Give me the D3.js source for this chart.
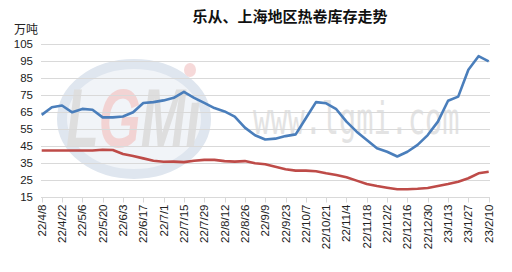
<!DOCTYPE html>
<html>
<head>
<meta charset="utf-8">
<script src="https://cdn.jsdelivr.net/npm/d3@7"></script>
<style>
  body { margin: 0; background: #fff; }
  svg { display: block; font-family: "Liberation Sans", "DejaVu Sans", sans-serif; }
</style>
</head>
<body>
<svg width="512" height="272"></svg>
<script>
// weekly data, 22/4/8 .. 23/2/10
var startDate = new Date(2022, 3, 8);
var blue = [63.5, 68, 69, 65, 67, 66.5, 62, 62, 62.5, 65, 70.5, 71, 72, 73.5, 77,
            73.5, 70.5, 67.5, 65.5, 62.5, 56, 51.5, 49, 49.5, 51, 52, 61.5, 71, 70.3,
            66.8, 59.5, 53.6, 48.7, 43.8, 41.8, 39, 41.8, 45.8, 51.6, 59.5, 71.8, 74.2,
            90, 98, 95];
var red = [42.5, 42.5, 42.5, 42.5, 42.5, 42.5, 43, 42.8, 40.5, 39.3, 37.9, 36.5, 35.9,
           36, 35.7, 36.5, 37, 37, 36.3, 36, 36.3, 35, 34.4, 33, 31.5, 30.7, 30.7,
           30.3, 29.1, 28.1, 26.8, 24.8, 22.8, 21.6, 20.6, 19.7, 19.7, 20, 20.5,
           21.6, 22.8, 24.2, 26.2, 29.1, 30];
var yTicks = [15, 25, 35, 45, 55, 65, 75, 85, 95, 105];

var dates = blue.map(function(d, i) { return d3.timeDay.offset(startDate, i * 7); });
var fmt = function(d) { return (d.getFullYear() % 100) + "/" + (d.getMonth() + 1) + "/" + d.getDate(); };

var svg = d3.select("svg");
var x = d3.scaleLinear().domain([0, blue.length - 1]).range([41.7, 488.7]);
var y = d3.scaleLinear().domain([15, 105]).range([197.3, 44.3]);

// watermark (logo + url)
var wm = svg.append("g").attr("id", "watermark");
wm.append("ellipse").attr("cx", 134).attr("cy", 119).attr("rx", 72).attr("ry", 55)
  .attr("fill", "#f1f4f8").attr("stroke", "#dfe6ef").attr("stroke-width", 10);
wm.append("ellipse").attr("cx", 190).attr("cy", 70).attr("rx", 6).attr("ry", 7)
  .attr("fill", "#f6d9d9");
var logo = wm.append("text").attr("x", 0).attr("y", 0)
  .attr("font-size", 84).attr("font-weight", "bold").attr("font-style", "italic")
  .attr("transform", "translate(66,147) scale(0.64,1)");
logo.append("tspan").attr("fill", "#dedede").text("L");
logo.append("tspan").attr("fill", "#f2d3d3").text("G");
logo.append("tspan").attr("fill", "#dedede").text("M\u0131");
wm.append("text").attr("x", 0).attr("y", 0)
  .attr("font-family", "DejaVu Sans Mono").attr("font-size", 44).attr("fill", "#e3e3e3")
  .attr("transform", "translate(253,134) scale(0.65,1)")
  .text("www.lgmi.com");

// grid
svg.append("g").selectAll("line").data(yTicks.slice(1)).enter().append("line")
  .attr("x1", 41).attr("x2", 490)
  .attr("y1", function(d) { return Math.round(y(d)) + 0.5; })
  .attr("y2", function(d) { return Math.round(y(d)) + 0.5; })
  .attr("stroke", "#d9d9d9");

// x axis
var xAxis = svg.append("g").attr("transform", "translate(0," + (Math.round(y(15)) + 0.5) + ")");
xAxis.append("line").attr("x1", 41).attr("x2", 490).attr("stroke", "#d9d9d9");
var tickIdx = d3.range(0, blue.length, 2);
xAxis.selectAll("line.tick").data(tickIdx).enter().append("line")
  .attr("class", "tick")
  .attr("x1", function(d) { return Math.round(x(d)) + 0.5; })
  .attr("x2", function(d) { return Math.round(x(d)) + 0.5; })
  .attr("y1", 0).attr("y2", 5).attr("stroke", "#d9d9d9");
xAxis.selectAll("text").data(tickIdx).enter().append("text")
  .attr("transform", function(d) { return "translate(" + (x(d) + 4) + ",7) rotate(-90)"; })
  .attr("text-anchor", "end").attr("font-size", 11.5).attr("fill", "#222")
  .text(function(d) { return fmt(dates[d]); });

// y labels
svg.append("g").selectAll("text").data(yTicks).enter().append("text")
  .attr("x", 33).attr("y", function(d) { return y(d) + 4; })
  .attr("text-anchor", "end").attr("font-size", 11.5).attr("fill", "#222")
  .text(function(d) { return d; });

svg.append("text").attr("x", 14).attr("y", 34).attr("font-size", 12).attr("fill", "#222")
  .attr("font-family", "Noto Sans CJK SC").text("万吨");
svg.append("text").attr("x", 290).attr("y", 22).attr("text-anchor", "middle")
  .attr("font-size", 15).attr("font-weight", "bold").attr("fill", "#111")
  .attr("font-family", "Noto Sans CJK SC").text("乐从、上海地区热卷库存走势");

// lines
var line = d3.line().x(function(d, i) { return x(i); }).y(function(d) { return y(d); });
svg.append("path").datum(red).attr("d", line).attr("fill", "none")
  .attr("stroke", "#be4b48").attr("stroke-width", 2.6).attr("stroke-linejoin", "round");
svg.append("path").datum(blue).attr("d", line).attr("fill", "none")
  .attr("stroke", "#4a7ebb").attr("stroke-width", 2.6).attr("stroke-linejoin", "round");
</script>
</body>
</html>
